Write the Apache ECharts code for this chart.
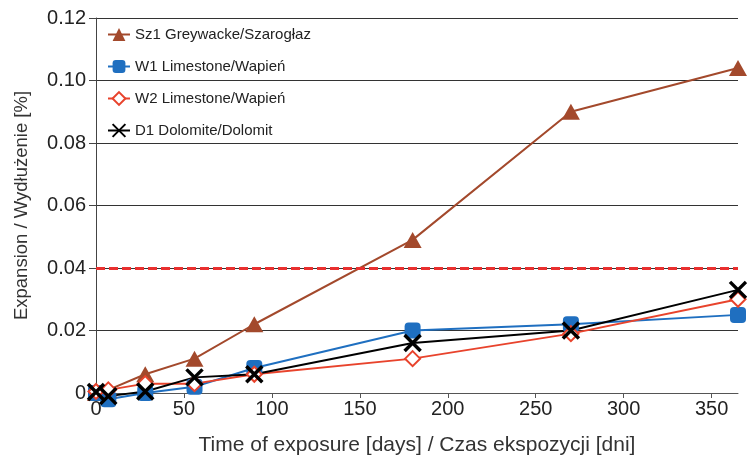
<!DOCTYPE html>
<html lang="en">
<head>
    <meta charset="utf-8"/>
    <title>Expansion</title>
    <script src="https://cdn.jsdelivr.net/npm/echarts@6/dist/echarts.min.js"></script>
</head>
<body style="margin:0;background:#fff">
<div id="echarts" style="width:747px;height:455px;"></div>
<script type="text/javascript">
    // days of exposure
    var days = [0, 7, 28, 56, 90, 180, 270, 365];
    // expansion [%]
    var sz1 = [0.0, 0.001, 0.006, 0.011, 0.022, 0.049, 0.090, 0.104];
    var w1 = [0.0, -0.002, 0.0, 0.002, 0.008, 0.020, 0.022, 0.025];
    var w2 = [0.0005, 0.001, 0.003, 0.003, 0.006, 0.011, 0.019, 0.030];
    var d1 = [0.0003, -0.001, 0.0005, 0.005, 0.006, 0.016, 0.020, 0.033];
    var names = ['Sz1 Greywacke/Szarogłaz', 'W1 Limestone/Wapień', 'W2 Limestone/Wapień', 'D1 Dolomite/Dolomit'];
    var limit = 0.04;

    function pairs(ys) {
        var out = [];
        for (var i = 0; i < days.length; i++) {
            out.push([days[i], ys[i]]);
        }
        return out;
    }

    var font = 'Liberation Sans, Arial, sans-serif';
    var myChart = echarts.init(document.getElementById('echarts'));
    var option = {
        animation: false,
        grid: {left: 96, right: 9, top: 18, bottom: 62, outerBoundsMode: 'none'},
        legend: {
            data: names,
            orient: 'vertical',
            left: 102,
            top: 22,
            itemGap: 17,
            itemWidth: 22,
            itemHeight: 16,
            textStyle: {fontFamily: font, fontSize: 15, color: '#222'}
        },
        xAxis: {
            type: 'value',
            min: 0,
            max: 365,
            interval: 50,
            name: 'Time of exposure [days] / Czas ekspozycji [dni]',
            nameLocation: 'middle',
            nameGap: 42,
            nameTextStyle: {fontFamily: font, fontSize: 21, color: '#333'},
            axisLine: {lineStyle: {color: '#555', width: 1}},
            axisTick: {show: true, length: 5, lineStyle: {color: '#555'}},
            axisLabel: {fontFamily: font, fontSize: 20, color: '#222', margin: 6, showMaxLabel: false},
            splitLine: {show: false}
        },
        yAxis: {
            type: 'value',
            min: 0,
            max: 0.12,
            interval: 0.02,
            name: 'Expansion / Wydłużenie [%]',
            nameLocation: 'middle',
            nameGap: 65,
            nameTextStyle: {fontFamily: font, fontSize: 18.5, color: '#333'},
            axisLine: {show: true, lineStyle: {color: '#444', width: 1}},
            axisTick: {show: true, length: 7, lineStyle: {color: '#444'}},
            axisLabel: {
                fontFamily: font, fontSize: 20, color: '#222', margin: 10,
                formatter: function (v) { return v === 0 ? '0' : v.toFixed(2); }
            },
            splitLine: {show: true, lineStyle: {color: '#333', width: 1}}
        },
        series: [{
            name: names[0],
            type: 'line',
            data: pairs(sz1),
            clip: false,
            symbol: 'triangle',
            symbolSize: [18, 16],
            lineStyle: {color: '#a3492c', width: 2},
            itemStyle: {color: '#a3492c'},
            markLine: {
                silent: true,
                symbol: 'none',
                label: {show: false},
                lineStyle: {color: '#e9302f', width: 3, type: [9, 4]},
                data: [{yAxis: limit}]
            }
        }, {
            name: names[1],
            type: 'line',
            data: pairs(w1),
            clip: false,
            symbol: 'roundRect',
            symbolSize: 16,
            lineStyle: {color: '#1f6fc0', width: 2},
            itemStyle: {color: '#1f6fc0'}
        }, {
            name: names[2],
            type: 'line',
            data: pairs(w2),
            clip: false,
            symbol: 'emptyDiamond',
            symbolSize: 15,
            lineStyle: {color: '#e8432c', width: 2},
            itemStyle: {color: '#e8432c', borderColor: '#e8432c', borderWidth: 2.5}
        }, {
            name: names[3],
            type: 'line',
            data: pairs(d1),
            clip: false,
            symbol: 'path://M0,0L10,10M10,0L0,10',
            symbolSize: 16,
            lineStyle: {color: '#000', width: 2},
            itemStyle: {color: '#000', borderColor: '#000', borderWidth: 3.5}
        }]
    };
    myChart.setOption(option);
</script>
</body>
</html>
